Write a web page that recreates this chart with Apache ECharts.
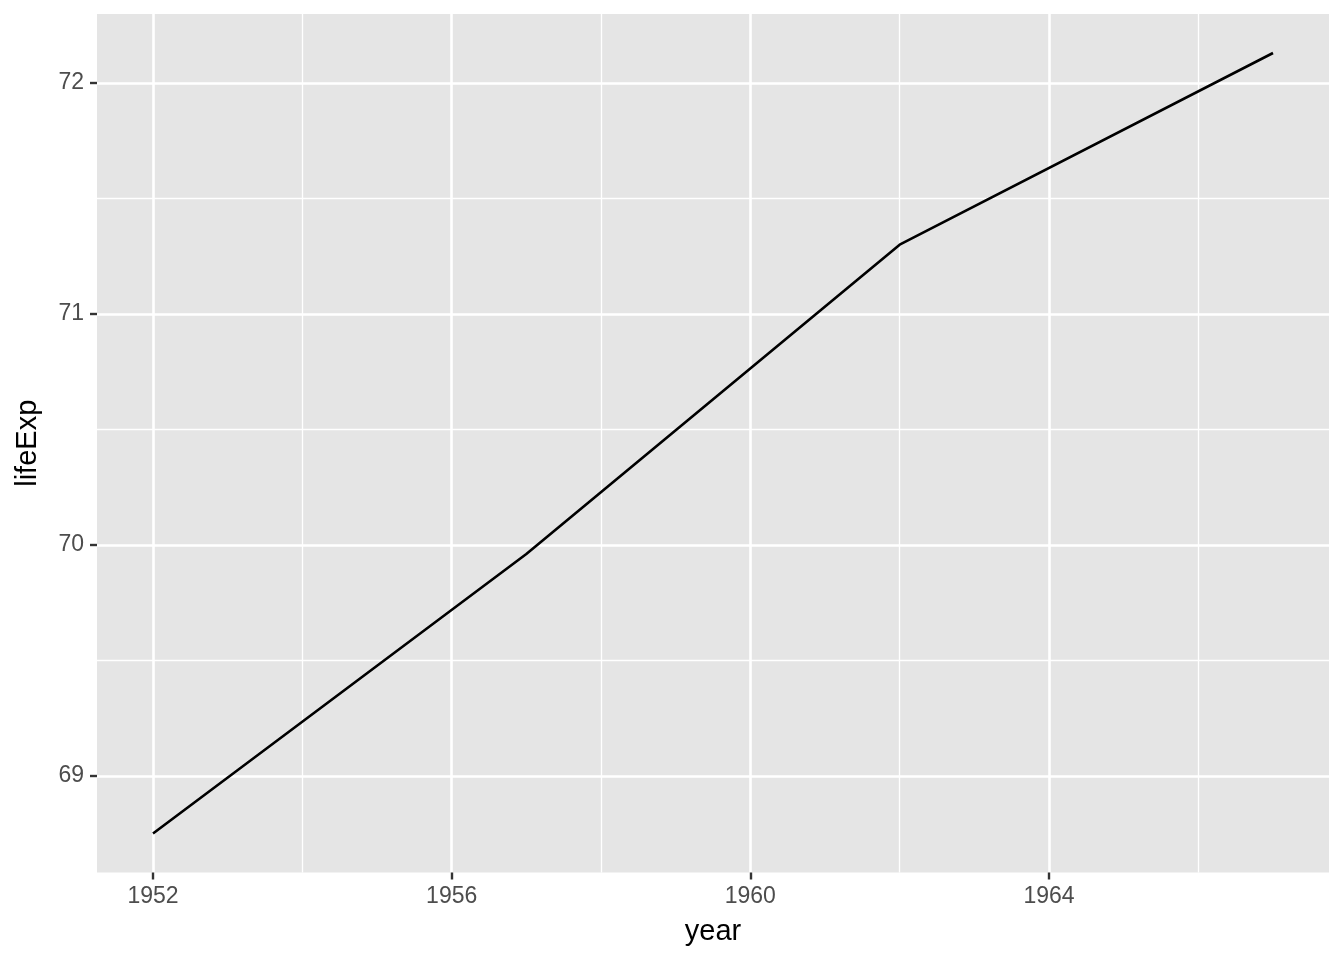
<!DOCTYPE html>
<html>
<head>
<meta charset="utf-8">
<script src="https://cdn.jsdelivr.net/npm/echarts@6/dist/echarts.min.js"></script>
<style>
html,body{margin:0;padding:0;background:#fff;}
#chart{width:1344px;height:960px;}
</style>
</head>
<body>
<div id="chart"></div>
<script>
const years = [1952, 1957, 1962, 1967];
const lifeExp = [68.75, 69.96, 71.3, 72.13];
const xMajorTicks = [1952, 1956, 1960, 1964];
const xMinorTicks = [1954, 1958, 1962, 1966];
const yMajorTicks = [69, 70, 71, 72];
const yMinorTicks = [69.5, 70.5, 71.5];

const xLo = Math.min(...years), xHi = Math.max(...years);
const yLo = Math.min(...lifeExp), yHi = Math.max(...lifeExp);
const xPad = (xHi - xLo) * 0.05, yPad = (yHi - yLo) * 0.05;

const FONT = 'Liberation Sans, Arial, Helvetica, sans-serif';
const chart = echarts.init(document.getElementById('chart'), null, {renderer: 'canvas'});

const labelStyle = {color: '#4D4D4D', fontSize: 23, fontFamily: FONT};

chart.setOption({
  animation: false,
  backgroundColor: '#FFFFFF',
  grid: {left: 97, right: 15, top: 14, bottom: 87.5, show: true, backgroundColor: '#E5E5E5', borderWidth: 0, containLabel: false},
  xAxis: [
    {
      type: 'value', min: xLo - xPad, max: xHi + xPad, gridIndex: 0, position: 'bottom', z: 1,
      axisLine: {show: false},
      axisTick: {show: false, customValues: xMinorTicks},
      axisLabel: {show: false, customValues: xMinorTicks},
      splitLine: {show: true, lineStyle: {color: '#FFFFFF', width: 1.3}}
    },
    {
      type: 'value', min: xLo - xPad, max: xHi + xPad, gridIndex: 0, position: 'bottom', z: 2,
      name: 'year', nameLocation: 'middle', nameGap: 45,
      nameTextStyle: {color: '#000000', fontSize: 29, fontFamily: FONT},
      axisLine: {show: false},
      axisTick: {show: true, customValues: xMajorTicks, length: 7, lineStyle: {color: '#333333', width: 2.4}},
      axisLabel: {show: true, customValues: xMajorTicks, margin: 13, ...labelStyle, formatter: v => String(v)},
      splitLine: {show: true, lineStyle: {color: '#FFFFFF', width: 2.6}}
    }
  ],
  yAxis: [
    {
      type: 'value', min: yLo - yPad, max: yHi + yPad, gridIndex: 0, position: 'left', z: 1,
      axisLine: {show: false},
      axisTick: {show: false, customValues: yMinorTicks},
      axisLabel: {show: false, customValues: yMinorTicks},
      splitLine: {show: true, lineStyle: {color: '#FFFFFF', width: 1.3}}
    },
    {
      type: 'value', min: yLo - yPad, max: yHi + yPad, gridIndex: 0, position: 'left', z: 2,
      name: 'lifeExp', nameLocation: 'middle', nameGap: 55, nameRotate: 90,
      nameTextStyle: {color: '#000000', fontSize: 29, fontFamily: FONT},
      axisLine: {show: false},
      axisTick: {show: true, customValues: yMajorTicks, length: 7, lineStyle: {color: '#333333', width: 2.4}},
      axisLabel: {show: true, customValues: yMajorTicks, margin: 13, ...labelStyle, formatter: v => String(v)},
      splitLine: {show: true, lineStyle: {color: '#FFFFFF', width: 2.6}}
    }
  ],
  series: [{
    type: 'line',
    xAxisIndex: 1, yAxisIndex: 1,
    data: years.map((y, i) => [y, lifeExp[i]]),
    showSymbol: false, symbol: 'none',
    lineStyle: {color: '#000000', width: 2.6},
    z: 5
  }]
});
</script>
</body>
</html>
